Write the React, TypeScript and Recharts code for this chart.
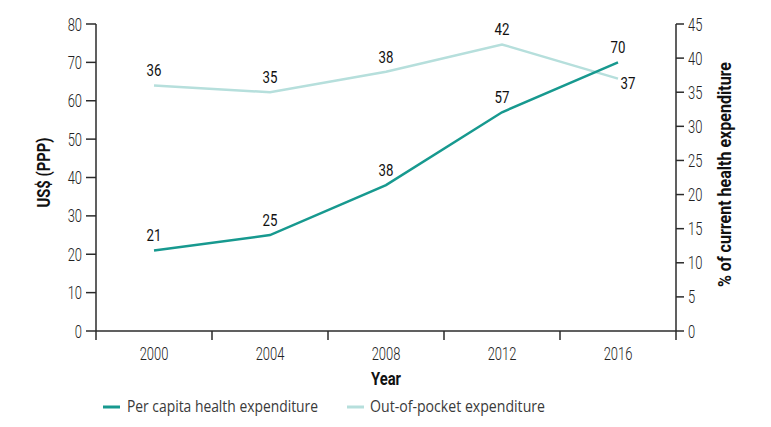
import React from 'react';
import { ComposedChart, Line, XAxis, YAxis, LabelList, Legend } from 'recharts';

const years = ['2000', '2004', '2008', '2012', '2016'];
const perCapita = [21, 25, 38, 57, 70];
const outOfPocket = [36, 35, 38, 42, 37];
const leftTicks = [0, 10, 20, 30, 40, 50, 60, 70, 80];
const rightTicks = [0, 5, 10, 15, 20, 25, 30, 35, 40, 45];

const data = years.map((y, i) => ({ year: y, perCapita: perCapita[i], oop: outOfPocket[i] }));

const DARK = '#17998f';
const LIGHT = '#b6dfdc';
const AXIS = '#2b2b2b';
const FONT = 'Roboto, "Open Sans", sans-serif';
const LFONT = '"Open Sans", Roboto, sans-serif';

type CProps = {
  x: number;
  y: number;
  anchor: 'start' | 'middle' | 'end';
  size: number;
  sx: number;
  weight?: number | string;
  fill?: string;
  children: React.ReactNode;
};

const CText = ({ x, y, anchor, size, sx, weight = 400, fill = '#333', children }: CProps) => (
  <text
    transform={`translate(${x},${y}) scale(${sx},1)`}
    textAnchor={anchor}
    fontSize={size}
    fontWeight={weight}
    fontFamily={FONT}
    fill={fill}
  >
    {children}
  </text>
);

const YTick = (props: any) => {
  const { x, y, payload, textAnchor } = props;
  return (
    <CText x={x} y={y + 6.5} anchor={textAnchor} size={18} sx={0.72} weight={300} fill="#222">
      {payload.value}
    </CText>
  );
};

const XTick = (props: any) => {
  const { x, y, payload, index, visibleTicksCount, width } = props;
  const half = payload.offset != null && payload.offset > 0 ? payload.offset : width / (2 * visibleTicksCount);
  const isLast = index === visibleTicksCount - 1;
  return (
    <g>
      <line x1={x - half} y1={y} x2={x - half} y2={y + 9} stroke={AXIS} strokeWidth={1.5} />
      {isLast && <line x1={x + half} y1={y} x2={x + half} y2={y + 9} stroke={AXIS} strokeWidth={1.5} />}
      <CText x={x} y={y + 29} anchor="middle" size={18} sx={0.72} weight={300} fill="#222">
        {payload.value}
      </CText>
    </g>
  );
};

const makeLabel = (series: string) => (props: any) => {
  const { x, y, value, index } = props;
  let tx = x;
  let ty = y - 9;
  if (series === 'oop' && index === years.length - 1) {
    tx = x + 10;
    ty = y + 10;
  }
  return (
    <CText x={tx} y={ty} anchor="middle" size={17} sx={0.78} weight={400} fill="#111">
      {value}
    </CText>
  );
};

const LegendContent = () => (
  <svg width={771} height={30} style={{ display: 'block' }}>
    <line x1={103} y1={11} x2={120} y2={11} stroke={DARK} strokeWidth={3} />
    <text x={127} y={16} fontSize={16} fontFamily={LFONT} fill="#3a3a3a" textLength={191} lengthAdjust="spacingAndGlyphs">
      Per capita health expenditure
    </text>
    <line x1={347} y1={11} x2={364} y2={11} stroke={LIGHT} strokeWidth={3} />
    <text x={370} y={16} fontSize={16} fontFamily={LFONT} fill="#3a3a3a" textLength={175} lengthAdjust="spacingAndGlyphs">
      Out-of-pocket expenditure
    </text>
  </svg>
);

export default function App() {
  return (
    <div style={{ position: 'absolute', left: 0, top: 0, background: '#fff' }}>
      <ComposedChart width={771} height={427} data={data} margin={{ top: 24, right: 0, bottom: 0, left: 0 }}>
        <XAxis
          xAxisId="cat"
          dataKey="year"
          scale="band"
          height={96}
          axisLine={{ stroke: AXIS, strokeWidth: 1.5 }}
          tickLine={false}
          tickSize={0}
          tickMargin={0}
          tick={<XTick />}
          interval={0}
          label={{
            content: (p: any) => {
              const vb = p.viewBox;
              return (
                <text x={vb.x + vb.width / 2} y={385} textAnchor="middle" fontSize={18} fontWeight={700} fontFamily={FONT} fill="#111" textLength={30} lengthAdjust="spacingAndGlyphs">
                  Year
                </text>
              );
            },
          }}
        />
        <YAxis
          yAxisId="left"
          domain={[0, 80]}
          ticks={leftTicks}
          width={96}
          tickSize={10}
          tickMargin={4}
          tick={<YTick />}
          interval={0}
          axisLine={{ stroke: AXIS, strokeWidth: 1.5 }}
          tickLine={{ stroke: AXIS, strokeWidth: 1.5 }}
          label={{
            content: (p: any) => {
              const vb = p.viewBox;
              const cx = 50;
              const cy = vb.y + vb.height / 2 - 5;
              return (
                <text x={cx} y={cy} transform={`rotate(-90, ${cx}, ${cy})`} textAnchor="middle" fontSize={18} fontWeight={700} fontFamily={FONT} fill="#111" textLength={70} lengthAdjust="spacingAndGlyphs">
                  US$ (PPP)
                </text>
              );
            },
          }}
        />
        <YAxis
          yAxisId="right"
          orientation="right"
          domain={[0, 45]}
          ticks={rightTicks}
          width={95}
          tickSize={8}
          tickMargin={4}
          tick={<YTick />}
          interval={0}
          axisLine={{ stroke: AXIS, strokeWidth: 1.5 }}
          tickLine={{ stroke: AXIS, strokeWidth: 1.5 }}
          label={{
            content: (p: any) => {
              const vb = p.viewBox;
              const cx = 731;
              const cy = vb.y + vb.height / 2 - 3;
              return (
                <text x={cx} y={cy} transform={`rotate(-90, ${cx}, ${cy})`} textAnchor="middle" fontSize={18} fontWeight={700} fontFamily={FONT} fill="#111" textLength={225} lengthAdjust="spacingAndGlyphs">
                  % of current health expenditure
                </text>
              );
            },
          }}
        />
        <Line
          xAxisId="cat"
          yAxisId="right"
          dataKey="oop"
          stroke={LIGHT}
          strokeWidth={2.5}
          dot={false}
          isAnimationActive={false}
        >
          <LabelList dataKey="oop" content={makeLabel('oop')} />
        </Line>
        <Line
          xAxisId="cat"
          yAxisId="left"
          dataKey="perCapita"
          stroke={DARK}
          strokeWidth={2.5}
          dot={false}
          isAnimationActive={false}
        >
          <LabelList dataKey="perCapita" content={makeLabel('pc')} />
        </Line>
        <Legend
          verticalAlign="middle"
          align="center"
          content={<LegendContent />}
          wrapperStyle={{ top: 396, left: 0, width: 771, height: 30 }}
        />
      </ComposedChart>
    </div>
  );
}
